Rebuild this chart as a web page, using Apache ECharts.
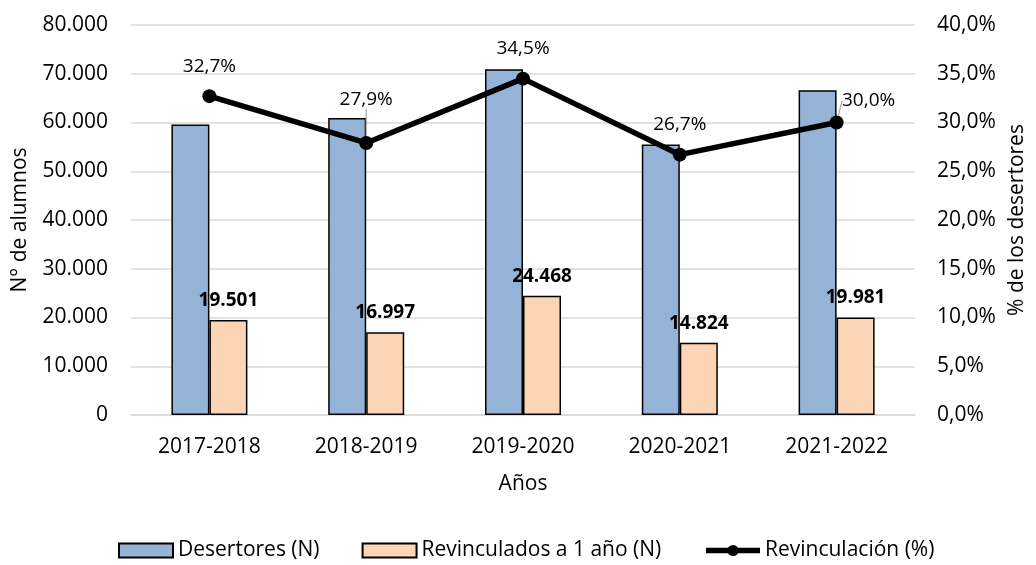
<!DOCTYPE html>
<html>
<head>
<meta charset="utf-8">
<script src="https://cdn.jsdelivr.net/npm/echarts@6/dist/echarts.min.js"></script>
<style>
html,body{margin:0;padding:0;background:#fff;}
#c{width:1036px;height:565px;}
</style>
</head>
<body>
<div id="c"></div>
<script>
const categories = ['2017-2018','2018-2019','2019-2020','2020-2021','2021-2022'];
const desertores = [59600, 60900, 70900, 55500, 66600];
const revinculados = [19501, 16997, 24468, 14824, 19981];
const revinculacionPct = [32.7, 27.9, 34.5, 26.7, 30.0];
const seriesNames = ['Desertores (N)', 'Revinculados a 1 año (N)', 'Revinculación (%)'];

const FONT = '"Open Sans", "Noto Sans", sans-serif';
const FS = 21;
const TXT = '#000';

function fmtThousands(v){
  return String(Math.round(v)).replace(/\B(?=(\d{3})+(?!\d))/g, '.');
}
function fmtPct(v){
  return v.toFixed(1).replace('.', ',') + '%';
}

// label shifts for the percentage labels (dx, dy from default 'top' placement)
const pctLabelShift = [[0,-8],[0,-22],[0,-9],[0,-9],[32,0]];
const pctLeader = [false, true, false, false, true];

const chart = echarts.init(document.getElementById('c'));
chart.setOption({
  animation: false,
  textStyle: {fontFamily: FONT, color: TXT},
  grid: {left: 131, right: 118, top: 25, bottom: 150, containLabel: false},
  legend: {
    left: 113, top: 535,
    itemWidth: 54, itemHeight: 14, itemGap: 42,
    textStyle: {fontFamily: FONT, fontSize: FS, color: TXT},
    data: [
      {name: seriesNames[0], icon: 'rect'},
      {name: seriesNames[1], icon: 'rect'},
      {name: seriesNames[2], lineStyle: {width: 5.5, color: '#000'}, itemStyle: {color: '#000'}}
    ]
  },
  xAxis: {
    type: 'category',
    data: categories,
    name: 'Años',
    nameLocation: 'middle',
    nameGap: 59,
    nameTextStyle: {fontFamily: FONT, fontSize: FS, color: TXT},
    axisLine: {lineStyle: {color: '#d9d9d9', width: 1.5}},
    axisTick: {show: false},
    axisLabel: {fontFamily: FONT, fontSize: FS, color: TXT, margin: 22}
  },
  yAxis: [
    {
      type: 'value', min: 0, max: 80000, interval: 10000,
      name: 'N° de alumnos', nameLocation: 'middle', nameGap: 100,
      nameTextStyle: {fontFamily: FONT, fontSize: FS, color: TXT},
      axisLine: {show: false}, axisTick: {show: false},
      splitLine: {lineStyle: {color: '#d9d9d9', width: 1.5}},
      axisLabel: {fontFamily: FONT, fontSize: FS, color: TXT, margin: 23, formatter: v => fmtThousands(v)}
    },
    {
      type: 'value', min: 0, max: 40, interval: 5,
      name: '% de los desertores', nameLocation: 'middle', nameGap: 92, nameRotate: 90,
      nameTextStyle: {fontFamily: FONT, fontSize: FS, color: TXT},
      axisLine: {show: false}, axisTick: {show: false},
      splitLine: {show: false},
      axisLabel: {fontFamily: FONT, fontSize: FS, color: TXT, margin: 22, formatter: v => fmtPct(v)}
    }
  ],
  series: [
    {
      name: seriesNames[0], type: 'bar', data: desertores,
      barWidth: 38, barGap: '0%',
      itemStyle: {color: '#95B3D7', borderColor: '#000', borderWidth: 1.5}
    },
    {
      name: seriesNames[1], type: 'bar', data: revinculados,
      barWidth: 38, barGap: '0%',
      itemStyle: {color: '#FBD5B5', borderColor: '#000', borderWidth: 1.5},
      label: {show: true, position: 'top', distance: 10, fontFamily: FONT, fontSize: FS - 2, fontWeight: 'bold', color: TXT,
        formatter: p => fmtThousands(p.value)}
    },
    {
      name: seriesNames[2], type: 'line', yAxisIndex: 1,
      data: revinculacionPct.map((v, i) => ({value: v, labelLine: {show: pctLeader[i]}})),
      symbol: 'circle', symbolSize: 14,
      lineStyle: {color: '#000', width: 5.5},
      itemStyle: {color: '#000'},
      label: {show: true, position: 'top', distance: 5, fontFamily: FONT, fontSize: FS - 2, color: TXT,
        formatter: p => fmtPct(p.value)},
      labelLine: {show: false, lineStyle: {color: '#a6a6a6', width: 1.2}},
      labelLayout: p => ({dx: pctLabelShift[p.dataIndex][0], dy: pctLabelShift[p.dataIndex][1]}),
      z: 5
    }
  ]
});
</script>
</body>
</html>
